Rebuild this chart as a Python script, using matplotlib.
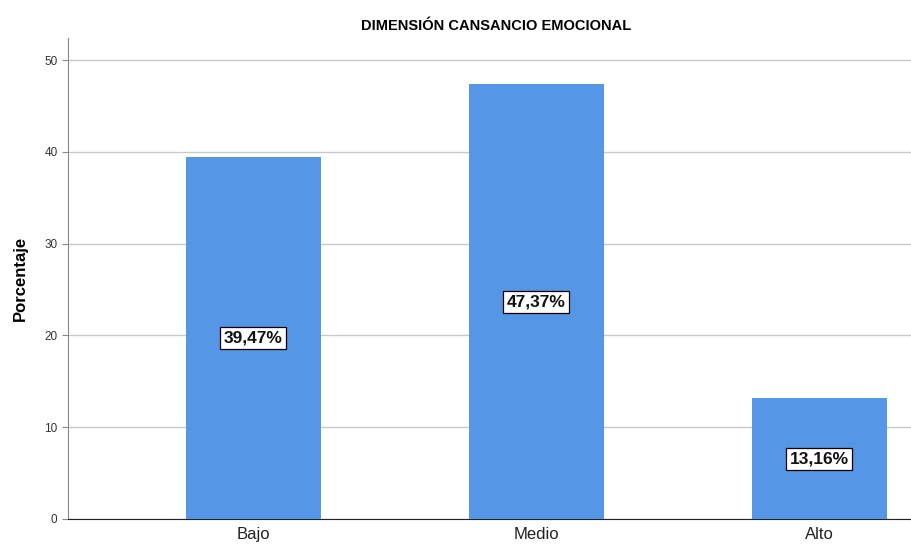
import matplotlib
matplotlib.use("Agg")
import matplotlib.pyplot as plt

categorias = ["Bajo", "Medio", "Alto"]
porcentajes = [39.47, 47.37, 13.16]
etiquetas = ["39,47%", "47,37%", "13,16%"]
yticks = [0, 10, 20, 30, 40, 50]

plt.rcParams['font.family'] = ['Liberation Sans', 'DejaVu Sans']

fig = plt.figure(figsize=(9.11, 5.52), dpi=100)
ax = fig.add_axes([0.0746, 0.0598, 0.9254, 0.8714])

x = list(range(len(categorias)))
ax.bar(x, porcentajes, width=0.477, color="#5596e6", zorder=3)

for xi, v, lab in zip(x, porcentajes, etiquetas):
    ax.text(xi, v / 2, lab, ha="center", va="center", fontsize=12.5, fontweight="bold",
            color="#111111", zorder=4,
            bbox=dict(boxstyle="square,pad=0.2", fc="white", ec="black", lw=0.9))

ax.set_xlim(-0.655, 2.325)
ax.set_ylim(0, 52.4)
ax.set_yticks(yticks)
ax.set_xticks(x)
ax.set_xticklabels(categorias, fontsize=12, color="#222222")
ax.tick_params(axis="y", labelsize=8.5, colors="#333333", length=4, color="#888888")
ax.tick_params(axis="x", length=0, pad=6)
ax.grid(axis="y", color="#c8c8c8", lw=1, zorder=0)

ax.spines["top"].set_visible(False)
ax.spines["right"].set_visible(False)
ax.spines["left"].set_color("#888888")
ax.spines["bottom"].set_color("#222222")

ax.set_ylabel("Porcentaje", fontsize=12, fontweight="bold", labelpad=12)
fig.text(0.545, 0.953, "DIMENSIÓN CANSANCIO EMOCIONAL", ha="center", va="center",
         fontsize=10.5, fontweight="bold")

fig.savefig("out.png", dpi=100)
